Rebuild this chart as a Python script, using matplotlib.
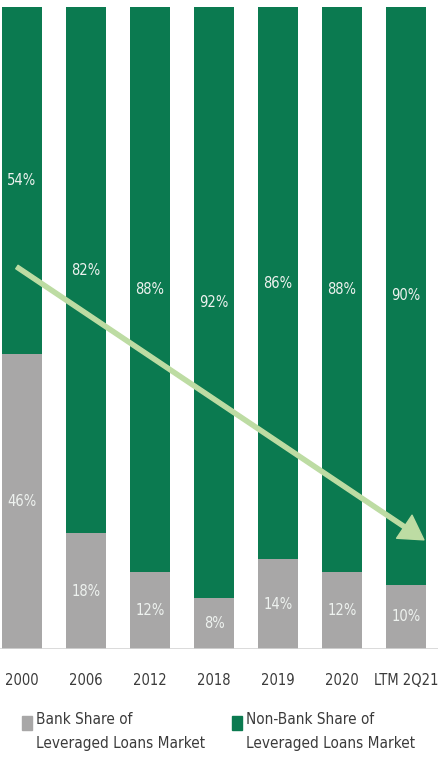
import numpy as np
import matplotlib.pyplot as plt
from matplotlib.patches import Rectangle

# data
years = ["2000", "2006", "2012", "2018", "2019", "2020", "LTM 2Q21"]
bank = [46, 18, 12, 8, 14, 12, 10]
nonbank = [54, 82, 88, 92, 86, 88, 90]
series = ["Bank Share of\nLeveraged Loans Market", "Non-Bank Share of\nLeveraged Loans Market"]

green = "#0b7a50"
grey = "#a8a7a7"
arrow_col = "#bddca3"
txt_col = "#eef2ef"
dark = "#3b3b3b"

plt.rcParams['font.family'] = ['DejaVu Sans']
plt.rcParams['font.stretch'] = 'condensed'

fig = plt.figure(figsize=(4.38, 7.62), dpi=100)
ax = fig.add_axes([0, 0.1483, 1, 0.8425])

x = np.arange(len(years))
w = 0.625
ax.bar(x, bank, w, color=grey)
ax.bar(x, nonbank, w, bottom=bank, color=green)

# labels in the middle of each segment
for i in range(len(years)):
    ax.text(x[i], bank[i] / 2, f"{bank[i]}%", ha="center", va="center",
            color=txt_col, fontsize=10.5)
    ax.text(x[i], bank[i] + nonbank[i] / 2, f"{nonbank[i]}%",
            ha="center", va="center", color=txt_col, fontsize=10.5)

ax.axhline(0, color="#d4d4d4", lw=1.2)

ax.annotate("", xy=(6.28, 17.0), xytext=(-0.08, 59.5),
            arrowprops=dict(facecolor=arrow_col, edgecolor=arrow_col,
                            width=3.0, headwidth=20, headlength=17))

ax.set_xlim(-0.344, 6.5)
ax.set_ylim(0, 100)
ax.set_xticks(x)
ax.set_xticklabels(years, fontsize=10.5, color=dark)
ax.tick_params(length=0, pad=17)
ax.set_yticks([])
for s in ax.spines.values():
    s.set_visible(False)

# legend drawn by hand: square plus two-line label
for px, col, lab in [(22, grey, series[0]), (232, green, series[1])]:
    fig.add_artist(Rectangle((px / 438, 1 - 730 / 762), 10 / 438, 14 / 762,
                             transform=fig.transFigure, color=col))
    fig.text((px + 14) / 438, 1 - 712 / 762, lab, va="top", ha="left",
             fontsize=11, color=dark, linespacing=1.75)

fig.savefig("out.png", dpi=100)
